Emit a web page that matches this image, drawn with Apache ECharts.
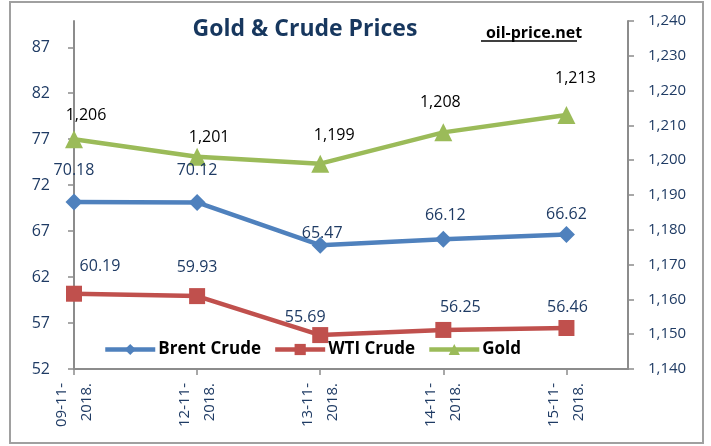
<!DOCTYPE html>
<html><head><meta charset="utf-8">
<script src="https://cdn.jsdelivr.net/npm/echarts@6/dist/echarts.min.js"></script>
<style>html,body{margin:0;padding:0;background:#fff}#c{width:711px;height:446px}</style>
</head><body><div id="c"></div>
<script>
const categories = ['09-11-2018.', '12-11-2018.', '13-11-2018.', '14-11-2018.', '15-11-2018.'];
const brent = [70.18, 70.12, 65.47, 66.12, 66.62];
const wti = [60.19, 59.93, 55.69, 56.25, 56.46];
const gold = [1206, 1201, 1199, 1208, 1213];
const leftTicks = [52, 57, 62, 67, 72, 77, 82, 87];
const rightTicks = [1140, 1150, 1160, 1170, 1180, 1190, 1200, 1210, 1220, 1230, 1240];

// label placement styles (pixels relative to point)
const goldOff = [[12,-24],[12,-19],[14,-28],[-3,-30],[9,-37]];
const brentOff = [[0,-31],[0,-32],[2,-12],[2,-24],[0,-20]];
const wtiOff = [[26,-27],[0,-29],[-15,-18],[17,-22],[1,-21]];

const FONT = 'Open Sans';
const AX = '#1F3B64';

function build(vals, offs) {
  return vals.map((v, i) => ({
    value: [i, v],
    label: { offset: offs[i] }
  }));
}

const chart = echarts.init(document.getElementById('c'), null, {renderer: 'canvas'});
chart.setOption({
  animation: false,
  backgroundColor: '#fff',
  title: [{
    text: 'Gold & Crude Prices', left: 300, top: 13, textAlign: 'center',
    textStyle: { fontFamily: FONT, fontWeight: 'bold', fontSize: 23, color: '#17375E' }
  }, {
    text: 'oil-price.net', left: 529, top: 20, textAlign: 'center',
    textStyle: { fontFamily: FONT, fontWeight: 'bold', fontSize: 16, color: '#000' }
  }],
  graphic: [{
    type: 'rect', shape: { x: 10, y: 2, width: 693, height: 441 },
    style: { fill: 'none', stroke: '#a0a0a0', lineWidth: 2 }, silent: true, z: -1
  }, {
    type: 'line', shape: { x1: 481, y1: 41, x2: 577, y2: 41 },
    style: { stroke: '#000', lineWidth: 1.5 }
  }],
  legend: {
    left: 98, top: 336, itemWidth: 50, itemHeight: 14, itemGap: 12,
    lineStyle: { width: 4.5 },
    textStyle: { fontFamily: FONT, fontWeight: 'bold', fontSize: 17, color: '#000', padding: [0,0,0,-2] },
    data: ['Brent Crude', 'WTI Crude', 'Gold']
  },
  grid: { left: 74, right: 83, top: 21, bottom: 77, containLabel: false },
  xAxis: {
    type: 'value', min: 0, max: 4.5,
    splitLine: { show: false },
    axisLine: { show: true, lineStyle: { color: '#8c8c8c', width: 2 } },
    axisTick: { show: true, customValues: [0,1,2,3,4], length: 6, lineStyle: { color: '#8c8c8c', width: 1.5 } },
    axisLabel: {
      customValues: [0,1,2,3,4], rotate: 90, margin: 14,
      fontFamily: FONT, fontSize: 15, color: AX, lineHeight: 25,
      formatter: v => { const s = categories[Math.round(v)]; return s.slice(0,6) + '\n' + s.slice(6); }
    }
  },
  yAxis: [{
    type: 'value', min: 52, max: 89.86, position: 'left',
    splitLine: { show: false },
    axisLine: { show: true, lineStyle: { color: '#8c8c8c', width: 2 } },
    axisTick: { show: true, customValues: leftTicks, length: 6, lineStyle: { color: '#8c8c8c', width: 1.5 } },
    axisLabel: { customValues: leftTicks, margin: 24, fontFamily: FONT, fontSize: 16, color: AX }
  }, {
    type: 'value', min: 1140, max: 1240, position: 'right',
    splitLine: { show: false },
    axisLine: { show: true, lineStyle: { color: '#8c8c8c', width: 2 } },
    axisTick: { show: true, customValues: rightTicks, length: 6, lineStyle: { color: '#8c8c8c', width: 1.5 } },
    axisLabel: { customValues: rightTicks, margin: 20, fontFamily: FONT, fontSize: 15, color: AX,
      formatter: v => v.toLocaleString('en-US') }
  }],
  series: [{
    name: 'Brent Crude', type: 'line', yAxisIndex: 0,
    data: build(brent, brentOff),
    symbol: 'diamond', symbolSize: 17,
    lineStyle: { color: '#4F81BD', width: 4.5 }, itemStyle: { color: '#4F81BD' },
    label: { show: true, position: 'inside', fontFamily: FONT, fontSize: 16, color: AX,
      formatter: p => p.value[1].toFixed(2) }
  }, {
    name: 'WTI Crude', type: 'line', yAxisIndex: 0,
    data: build(wti, wtiOff),
    symbol: 'rect', symbolSize: 16,
    lineStyle: { color: '#C0504D', width: 4.5 }, itemStyle: { color: '#C0504D' },
    label: { show: true, position: 'inside', fontFamily: FONT, fontSize: 16, color: AX,
      formatter: p => p.value[1].toFixed(2) }
  }, {
    name: 'Gold', type: 'line', yAxisIndex: 1,
    data: build(gold, goldOff),
    symbol: 'triangle', symbolSize: 18,
    lineStyle: { color: '#9BBB59', width: 4.5 }, itemStyle: { color: '#9BBB59' },
    label: { show: true, position: 'inside', fontFamily: FONT, fontSize: 16, color: '#000',
      formatter: p => p.value[1].toLocaleString('en-US') }
  }]
});
</script></body></html>
